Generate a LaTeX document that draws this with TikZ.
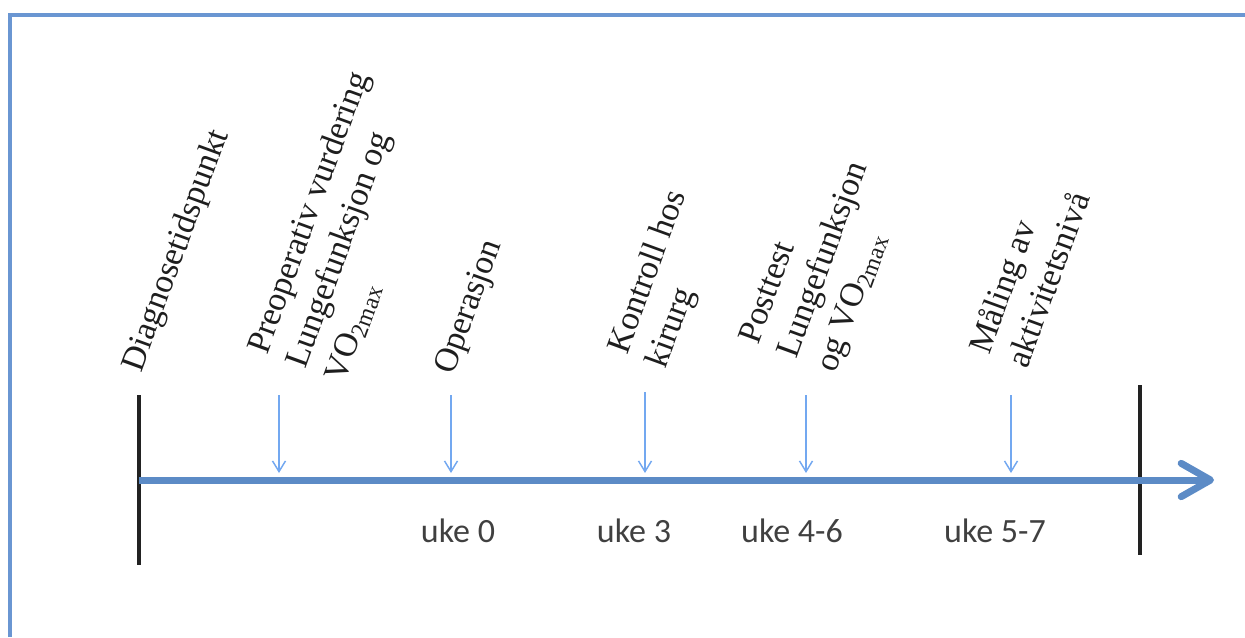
\documentclass[tikz,border=0pt]{standalone}
\usepackage{fontspec}
\setmainfont{Liberation Serif}
\setsansfont{Carlito}
\usetikzlibrary{arrows.meta}
\definecolor{frameblue}{RGB}{106,150,210}
\definecolor{lineblue}{RGB}{92,139,198}
\definecolor{tickblue}{RGB}{115,168,240}
\definecolor{bargray}{RGB}{34,34,34}
\definecolor{ukegray}{RGB}{64,64,64}
\definecolor{labelgray}{RGB}{30,30,30}
\newcommand{\stacklines}[1]{\vtop{\baselineskip=30.75pt \lineskiplimit=-100pt #1}}
\begin{document}
\begin{tikzpicture}[x=0.75pt,y=-0.75pt,
  framestyle/.style={draw=frameblue,line width=3pt},
  timeline/.style={draw=lineblue,line width=5.25pt,-{Straight Barb[length=22pt,width=25pt,round]}},
  endbar/.style={draw=bargray,line width=3pt},
  tickarrow/.style={draw=tickblue,line width=1.1pt,-{Straight Barb[length=8pt,width=9.75pt]}},
  ukelabel/.style={font=\sffamily\fontsize{25.5pt}{30pt}\selectfont,text=ukegray,anchor=base,inner sep=0pt},
  eventlabel/.style={font=\fontsize{25.5pt}{30.75pt}\selectfont,text=labelgray,anchor=base west,inner sep=0pt,rotate=70}]
\useasboundingbox (0,0) rectangle (1245,637);
% frame
\draw[framestyle] (10,637) -- (10,14.5) -- (1245,14.5);
% end bars
\coordinate (lbtop) at (139,395);
\coordinate (lbbot) at (139,565);
\coordinate (rbtop) at (1140,385);
\coordinate (rbbot) at (1140,555);
\draw[endbar] (lbtop) -- (lbbot);
\draw[endbar] (rbtop) -- (rbbot);
% timeline
\coordinate (tstart) at (139,480);
\coordinate (tend) at (1214,480);
\draw[timeline] (tstart) -- (tend);
% tick arrows
\foreach \n/\x/\t in {a/279/395, b/451/395, c/645/392, d/806/395, e/1011/395}{
  \coordinate (\n top) at (\x,\t);
  \coordinate (\n tip) at (\x,473);
  \draw[tickarrow] (\n top) -- (\n tip);
}
% event labels
\node[eventlabel] (diag) at (141,374) {Diagnosetidspunkt};
\node[eventlabel] (preop) at (267,356) {\stacklines{\hbox{Preoperativ vurdering}\hbox{Lungefunksjon og}\hbox{VO\textsubscript{2max}}}};
\node[eventlabel] (oper) at (453,376) {Operasjon};
\node[eventlabel] (kontr) at (627,356) {\stacklines{\hbox{Kontroll hos}\hbox{kirurg}}};
\node[eventlabel] (post) at (758,346) {\stacklines{\hbox{Posttest}\hbox{Lungefunksjon}\hbox{og VO\textsubscript{2max}}}};
\node[eventlabel] (maal) at (989,356) {\stacklines{\hbox{Måling av}\hbox{aktivitetsnivå}}};
% week labels
\node[ukelabel] (u0) at (458,542) {uke 0};
\node[ukelabel] (u3) at (634,542) {uke 3};
\node[ukelabel] (u46) at (792,542) {uke 4-6};
\node[ukelabel] (u57) at (995,542) {uke 5-7};
\end{tikzpicture}
\end{document}
